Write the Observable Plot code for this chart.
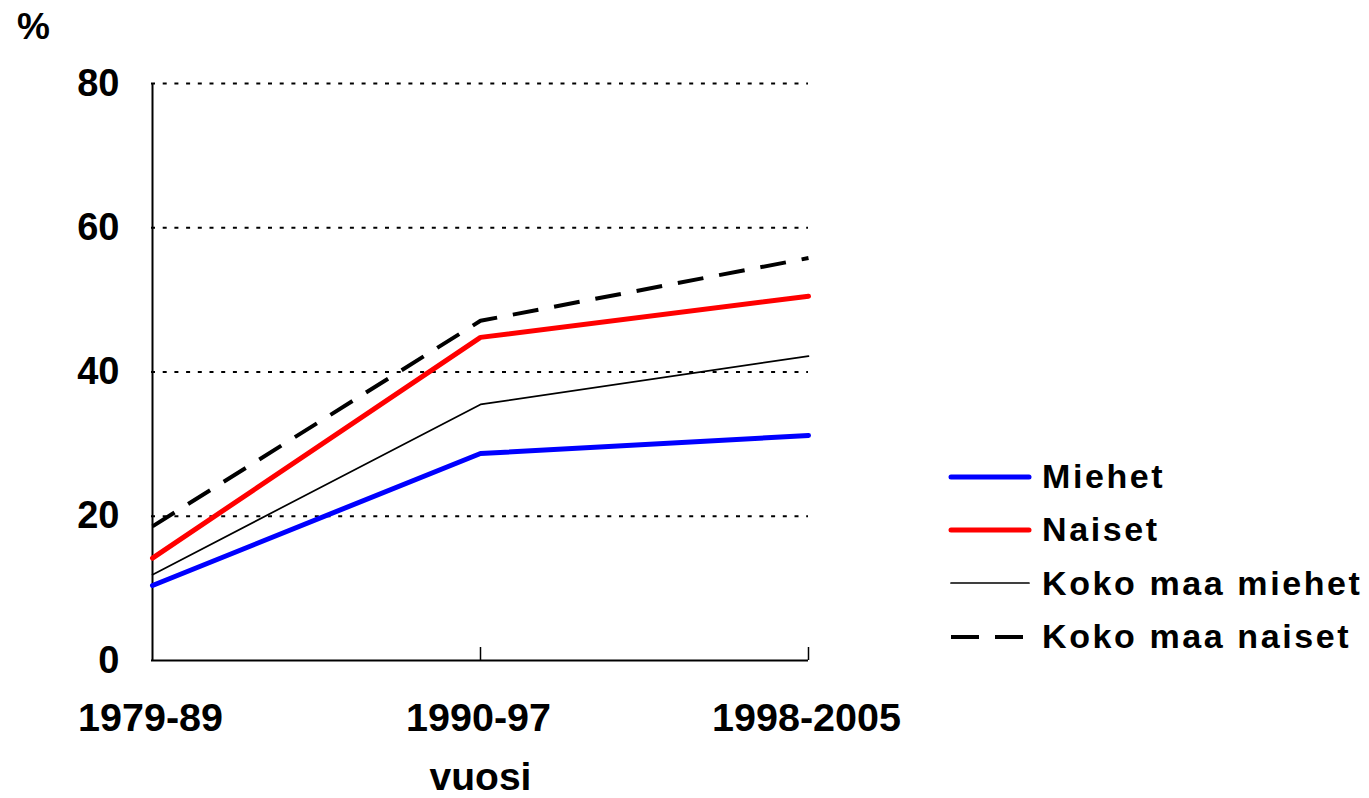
<!DOCTYPE html>
<html><head><meta charset="utf-8">
<script src="https://cdn.jsdelivr.net/npm/d3@7"></script>
<script src="https://cdn.jsdelivr.net/npm/@observablehq/plot@0.6"></script>
<style>
body{margin:0;background:#fff;font-family:"Liberation Sans",Arial,sans-serif;}
#wrap{position:relative;width:1369px;height:798px;overflow:hidden;}
#legend{position:absolute;left:948px;top:450px;font-weight:bold;font-size:34px;letter-spacing:2.6px;}
.item{display:flex;align-items:center;height:53.3px;}
.item svg{margin-right:10px;}
</style></head><body>
<div id="wrap"><div id="chart"></div><div id="legend"></div></div>
<script>
const periods = ["1979-89", "1990-97", "1998-2005"];
const seriesNames = ["Miehet", "Naiset", "Koko maa miehet", "Koko maa naiset"];
const miehet = [10.4, 28.7, 31.2];
const naiset = [14.2, 44.8, 50.5];
const kokoMiehet = [11.9, 35.5, 42.2];
const kokoNaiset = [18.6, 47.1, 55.8];
const yTicks = [0, 20, 40, 60, 80];
const gridTicks = [20, 40, 60, 80];

const styles = {
  "Miehet": {stroke: "#0000ff", strokeWidth: 5, dash: null},
  "Naiset": {stroke: "#ff0000", strokeWidth: 5, dash: null},
  "Koko maa miehet": {stroke: "#000", strokeWidth: 1.7, dash: null},
  "Koko maa naiset": {stroke: "#000", strokeWidth: 4, dash: "26,16"}
};
const allValues = [miehet, naiset, kokoMiehet, kokoNaiset];
const data = [];
seriesNames.forEach((s, i) => periods.forEach((p, j) => data.push({series: s, period: p, value: allValues[i][j]})));

const lineMarks = seriesNames.map(s => Plot.line(data.filter(d => d.series === s), {
  x: "period", y: "value", stroke: styles[s].stroke, strokeWidth: styles[s].strokeWidth,
  strokeDasharray: styles[s].dash, strokeLinecap: s === "Koko maa naiset" ? "butt" : "round", strokeLinejoin: "round"
}));

const chart = Plot.plot({
  width: 1369, height: 798,
  marginLeft: 151, marginRight: 561, marginTop: 83, marginBottom: 138,
  style: {fontFamily: "'Liberation Sans', Arial, sans-serif", background: "#fff", overflow: "visible"},
  x: {type: "point", domain: periods, padding: 0, axis: null},
  y: {domain: [0, 80], axis: null},
  marks: [
    Plot.ruleY(gridTicks, {stroke: "#000", strokeWidth: 2, strokeDasharray: "4,7.7"}),
    Plot.ruleX([periods[0]], {y1: 0, y2: 80, stroke: "#000", strokeWidth: 2}),
    Plot.ruleY([0], {stroke: "#000", strokeWidth: 2}),
    Plot.ruleX(periods.slice(1), {x: d => d, y1: 0, y2: 1.8, stroke: "#000", strokeWidth: 1.5}),
    ...lineMarks,
    Plot.text(yTicks, {x: () => periods[0], y: d => d, text: d => String(d), dx: -33, textAnchor: "end", fontSize: 38, fontWeight: "bold", fill: "#000"}),
    Plot.text(periods, {x: d => d, y: 0, text: d => d, dx: -2, dy: 57.5, fontSize: 39.5, fontWeight: "bold", fill: "#000"}),
    Plot.text(["vuosi"], {x: () => periods[1], y: 0, text: d => d, dy: 117, fontSize: 39, fontWeight: "bold", fill: "#000"}),
    Plot.text(["%"], {x: () => periods[0], y: 80, text: d => d, dx: -119, dy: -56.5, fontSize: 37, fontWeight: "bold", fill: "#000"})
  ]
});
document.getElementById("chart").appendChild(chart);

const legend = document.getElementById("legend");
seriesNames.forEach(s => {
  const st = styles[s];
  const div = document.createElement("div");
  div.className = "item";
  div.innerHTML = `<svg width="84" height="20"><line x1="3" y1="10" x2="81" y2="10" stroke="${st.stroke}" stroke-width="${st.strokeWidth}" ${st.dash ? 'stroke-dasharray="28,16"' : ''} stroke-linecap="${st.dash ? 'butt' : 'round'}"/></svg><span>${s}</span>`;
  legend.appendChild(div);
});
</script>
</body></html>
